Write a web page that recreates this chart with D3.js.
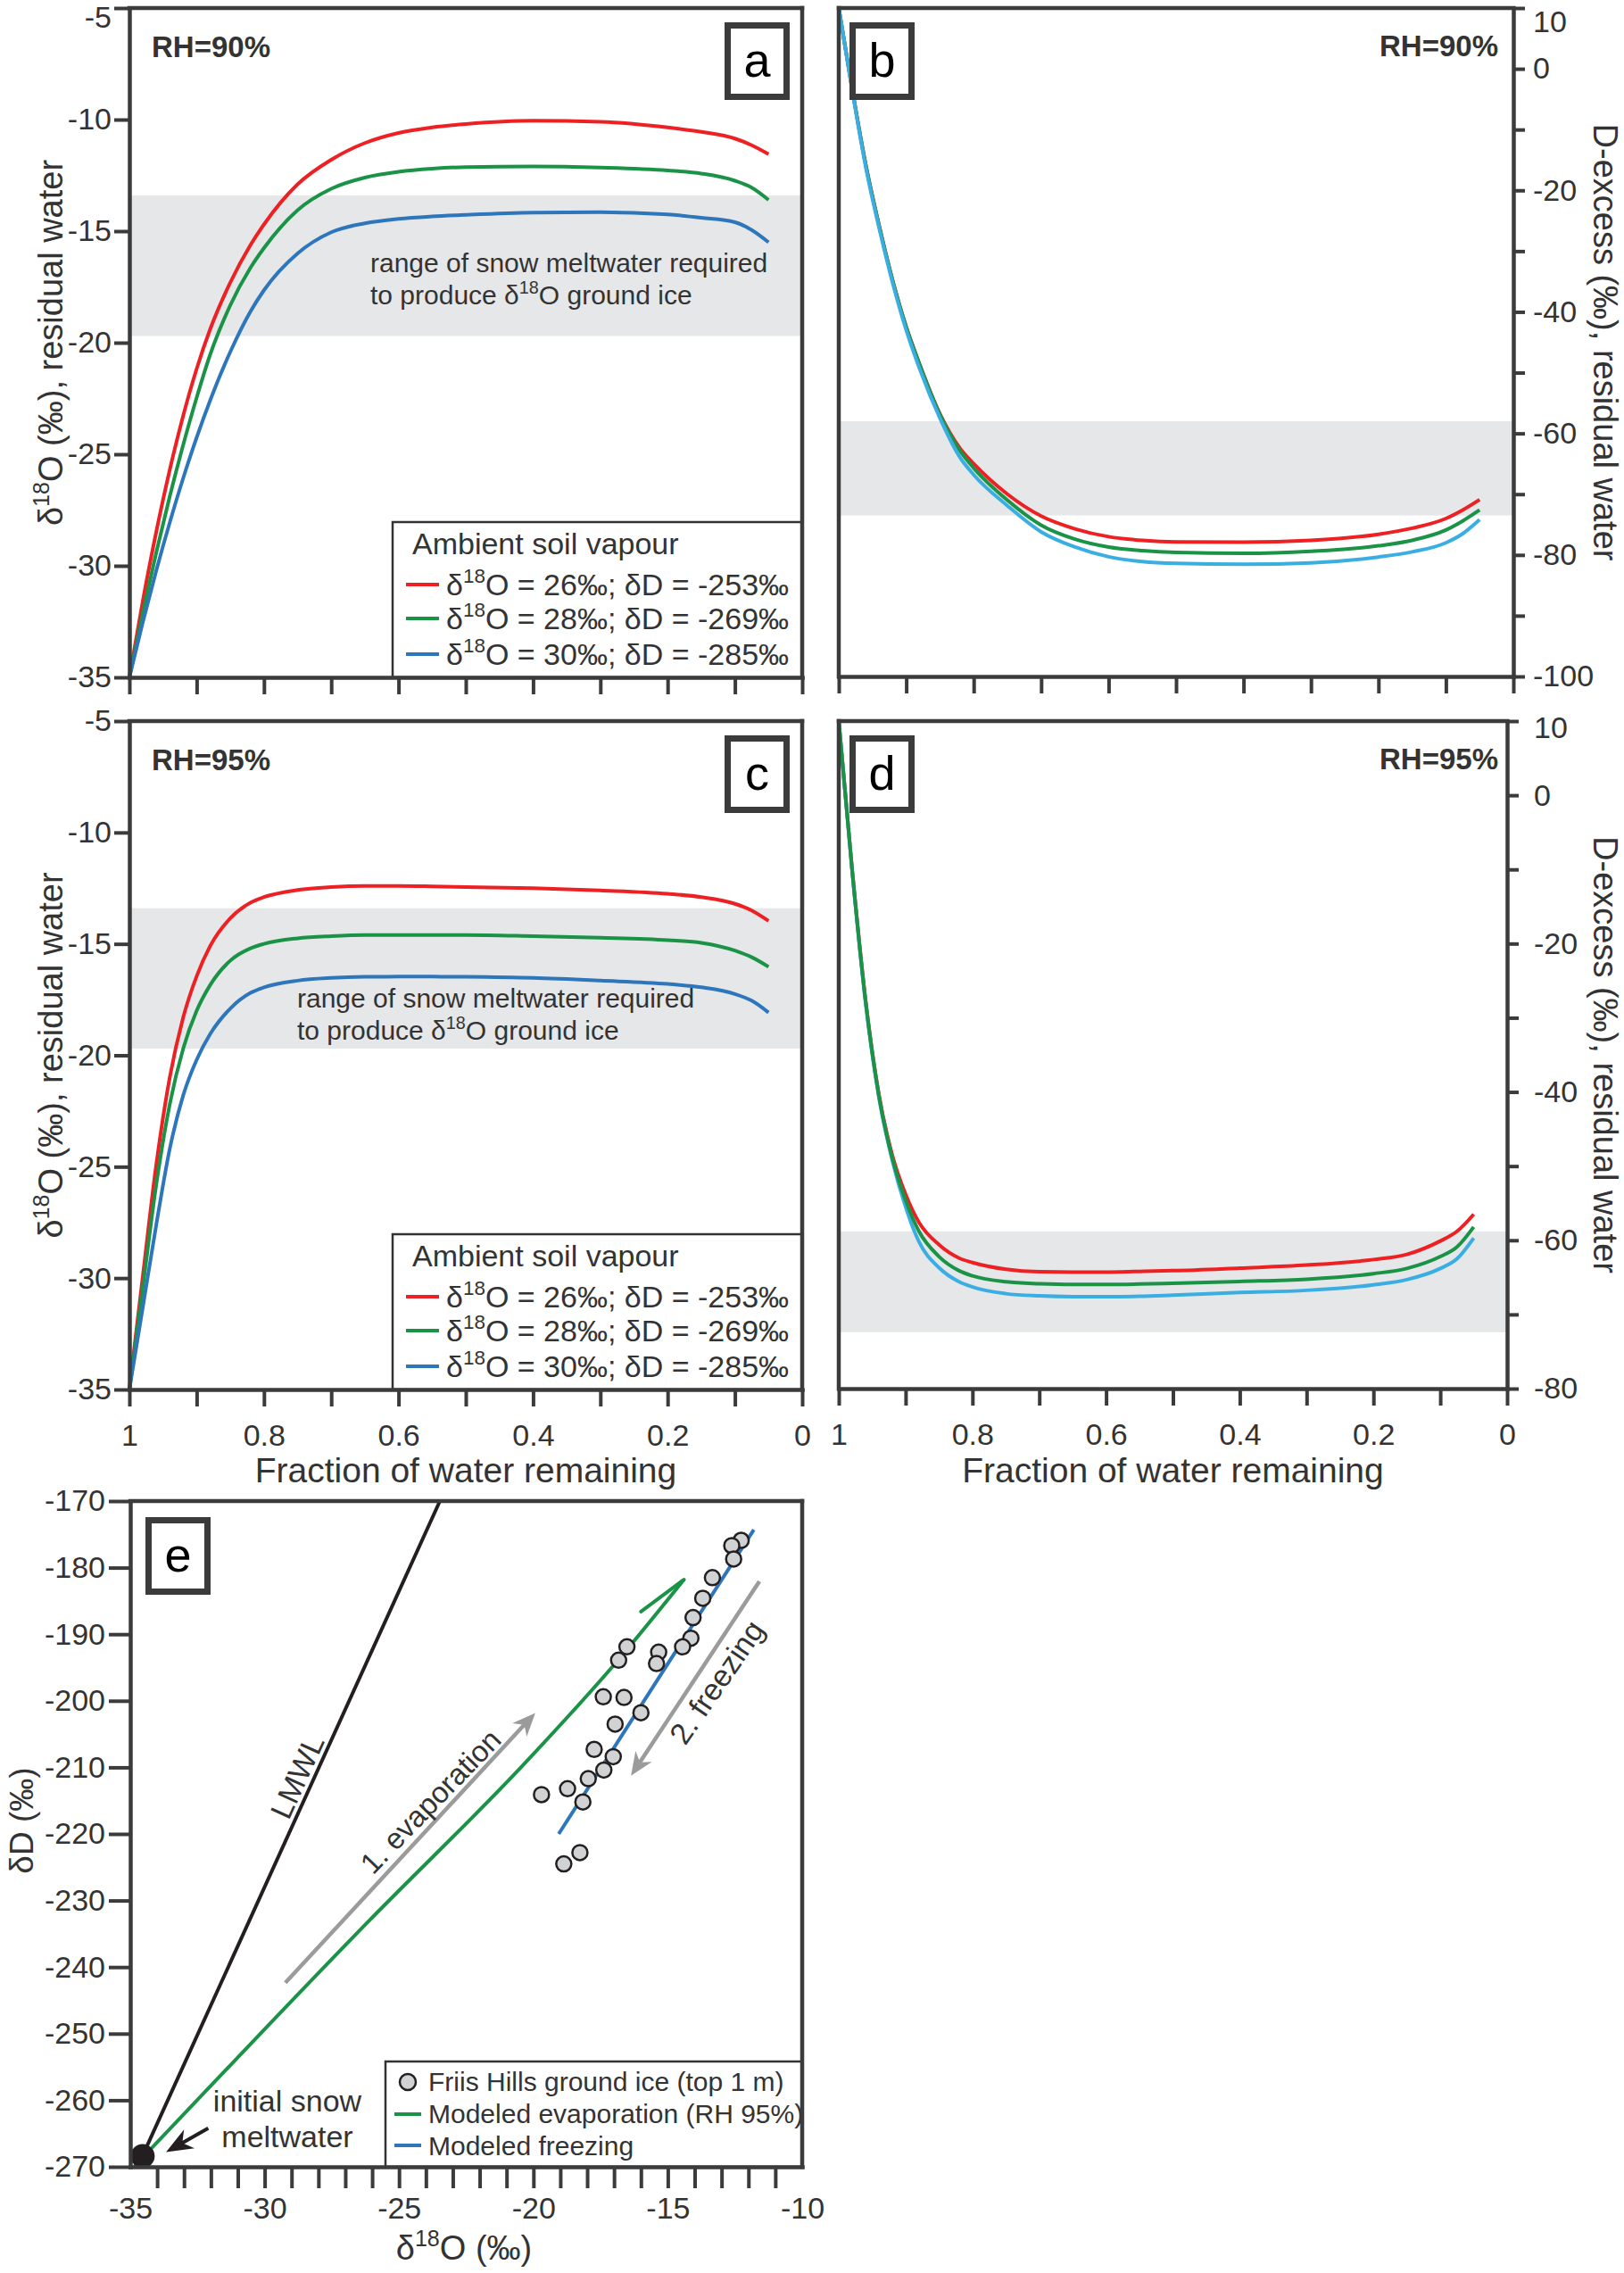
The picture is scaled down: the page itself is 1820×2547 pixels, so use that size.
<!DOCTYPE html>
<html>
<head>
<meta charset="utf-8">
<script src="https://d3js.org/d3.v7.min.js"></script>
<style>
  body { margin: 0; background: #fff; }
  svg text { font-family: "Liberation Sans", Arial, Helvetica, sans-serif; }
</style>
</head>
<body>
<div id="figure"></div>
<script>
"use strict"

var fracSteps = [1, 0.98, 0.96, 0.94, 0.92, 0.9, 0.88, 0.85, 0.82, 0.8, 0.75, 0.7, 0.65, 0.6, 0.55, 0.5, 0.4, 0.3, 0.2, 0.15, 0.1, 0.075, 0.05];
var fracTicks = [1, 0.9, 0.8, 0.7, 0.6, 0.5, 0.4, 0.3, 0.2, 0.1, 0];

// a: d18O residual water, RH 90%
var o18Rh90Red   = [-35, -31.57, -28.47, -25.7, -23.27, -21.17, -19.4, -17.3, -15.62, -14.7, -12.9, -11.8, -11.05, -10.6, -10.35, -10.2, -10.05, -10.1, -10.35, -10.55, -10.85, -11.15, -11.55];
var o18Rh90Green = [-35, -32.1, -29.4, -26.89, -24.58, -22.46, -20.54, -18.32, -16.64, -15.76, -14.06, -13.1, -12.6, -12.34, -12.2, -12.13, -12.1, -12.15, -12.28, -12.42, -12.74, -13.05, -13.6];
var o18Rh90Blue  = [-35, -32.52, -30.21, -28.06, -26.07, -24.25, -22.59, -20.41, -18.6, -17.65, -16.0, -15.05, -14.65, -14.45, -14.34, -14.27, -14.17, -14.15, -14.25, -14.4, -14.6, -14.95, -15.5];

// c: d18O residual water, RH 95%
var o18Rh95Red   = [-35, -29.9, -24.9, -21.0, -18.3, -16.45, -15.1, -13.85, -13.15, -12.9, -12.58, -12.45, -12.4, -12.4, -12.42, -12.45, -12.5, -12.6, -12.75, -12.9, -13.2, -13.5, -13.97];
var o18Rh95Green = [-35, -30.4, -25.8, -22.2, -19.7, -18.0, -16.85, -15.75, -15.2, -15.0, -14.75, -14.65, -14.6, -14.6, -14.6, -14.6, -14.65, -14.72, -14.83, -14.95, -15.3, -15.6, -16.03];
var o18Rh95Blue  = [-35, -31.3, -27.6, -24.2, -21.8, -20.2, -19.05, -17.9, -17.2, -16.95, -16.65, -16.53, -16.48, -16.47, -16.47, -16.48, -16.53, -16.65, -16.8, -16.95, -17.25, -17.55, -18.08];

// b: D-excess residual water, RH 90%
var dexRh90Red   = [10, -3.4, -15.8, -25.9, -34.9, -42.5, -48.7, -56.8, -62.5, -65.0, -70.0, -73.6, -75.7, -77.0, -77.6, -77.85, -77.9, -77.6, -76.6, -75.6, -74.0, -72.6, -70.9];
var dexRh90Green = [10, -3.4, -15.8, -25.9, -34.9, -42.5, -48.7, -56.9, -62.9, -65.7, -71.0, -75.1, -77.4, -78.7, -79.3, -79.6, -79.75, -79.4, -78.5, -77.6, -75.9, -74.4, -72.6];
var dexRh90Blue  = [10, -3.6, -16.2, -26.3, -35.3, -43.0, -49.4, -57.5, -64.0, -66.8, -71.9, -76.2, -78.7, -80.3, -81.1, -81.4, -81.55, -81.3, -80.35, -79.5, -78.0, -76.5, -74.2];

// d: D-excess residual water, RH 95%
var dexRh95Red   = [10, -10.0, -27.5, -40.3, -48.5, -53.8, -57.6, -60.6, -62.4, -63.0, -63.9, -64.25, -64.3, -64.3, -64.2, -64.1, -63.75, -63.35, -62.6, -61.9, -60.1, -58.8, -56.5];
var dexRh95Green = [10, -10.1, -27.7, -40.5, -48.9, -54.6, -58.8, -62.2, -64.1, -64.8, -65.6, -65.85, -65.95, -65.95, -65.9, -65.8, -65.55, -65.25, -64.5, -63.8, -62.2, -60.9, -58.2];
var dexRh95Blue  = [10, -10.2, -27.9, -40.7, -49.2, -55.5, -60.2, -63.7, -65.6, -66.3, -67.2, -67.5, -67.6, -67.6, -67.55, -67.4, -67.05, -66.75, -66.0, -65.3, -63.8, -62.5, -59.7];

// grey bands: range needed to produce the ground ice
var bandO18 = [-13.4, -19.7];
var bandDexRh90 = [-58, -73.5];
var bandDexRh95 = [-58.8, -72.4];

var vapourLabels = ["δ^{18}O = 26‰; δD = -253‰", "δ^{18}O = 28‰; δD = -269‰", "δ^{18}O = 30‰; δD = -285‰"];

// e: dD vs d18O
var iceO18 = [-12.27, -12.62, -12.55, -13.34, -13.70, -14.06, -14.14, -14.45, -15.34, -15.42, -16.52, -16.83, -17.40, -16.63, -16.0, -16.96, -17.74, -17.03, -17.38, -17.96, -18.73, -19.70, -18.16, -18.27, -18.87];
var iceDD  = [-175.9, -176.7, -178.7, -181.5, -184.6, -187.5, -190.6, -191.9, -192.7, -194.4, -191.9, -193.9, -199.4, -199.5, -201.8, -203.5, -207.3, -208.4, -210.4, -211.7, -213.2, -214.1, -215.2, -222.8, -224.5];
var evapO18 = [-34.86, -26.2, -20.3, -17.0, -14.4];
var evapDD  = [-270, -233.4, -209.3, -194.6, -181.8];
var freezeO18 = [-19.06, -11.8];
var freezeDD  = [-220.0, -174.3];
var lmwlO18 = [-34.55, -23.48];
var lmwlDD  = [-268.4, -170];
var snowO18 = -34.54, snowDD = -268.4;
var evapArrow   = [[-29.23, -242.35], [-19.93, -201.82]];
var freezeArrow = [[-11.59, -182.05], [-16.37, -211.27]];
var snowArrow   = [[-32.1, -264.2], [-33.67, -267.8]];

var RED = "#ed2024", GREEN = "#1b9347", BLUE = "#2e76bc", LBLUE = "#3aaee2";
var AX = "#3b3b3b", TXT = "#333", BAND = "#e6e7e8", GREY = "#9b9b9b";

var svg = d3.select("#figure").append("svg")
  .attr("width", 1820).attr("height", 2547);

// text with ^{..} superscripts
function supText(t, str, size) {
  var bits = str.split(/(\^\{[^}]*\})/);
  var up = false;
  bits.forEach(function(b) {
    if (!b) return;
    var m = b.match(/^\^\{(.*)\}$/);
    if (m) {
      t.append("tspan").attr("font-size", size * 0.66).attr("dy", -size * 0.4).text(m[1]);
      up = true;
    } else {
      t.append("tspan").attr("font-size", size).attr("dy", up ? size * 0.4 : null).text(b);
      up = false;
    }
  });
  return t;
}

function styleAxis(g, size) {
  g.attr("font-family", null).attr("font-size", null);
  g.select(".domain").attr("stroke", AX).attr("stroke-width", 4.5).attr("stroke-linecap", "square");
  g.selectAll(".tick line").attr("stroke", AX).attr("stroke-width", 4);
  g.selectAll(".tick text").attr("fill", TXT).style("font-size", size + "px");
}

function frameLine(g, x1, y1, x2, y2) {
  g.append("line").attr("x1", x1).attr("y1", y1).attr("x2", x2).attr("y2", y2)
    .attr("stroke", AX).attr("stroke-width", 4.5).attr("stroke-linecap", "square");
}

function letterBox(g, x, y, letter) {
  g.append("rect").attr("x", x + 3.5).attr("y", y + 3.5).attr("width", 66).attr("height", 80)
    .attr("fill", "#fff").attr("stroke", AX).attr("stroke-width", 7);
  g.append("text").attr("x", x + 36.5).attr("y", y + 61).attr("text-anchor", "middle")
    .attr("font-size", 54).attr("fill", "#000").text(letter);
}

function arrow(g, p0, p1, color, width, len, half) {
  var dx = p1[0] - p0[0], dy = p1[1] - p0[1], L = Math.sqrt(dx * dx + dy * dy);
  var ux = dx / L, uy = dy / L;
  g.append("line").attr("x1", p0[0]).attr("y1", p0[1])
    .attr("x2", p1[0] - ux * len * 0.6).attr("y2", p1[1] - uy * len * 0.6)
    .attr("stroke", color).attr("stroke-width", width);
  var bx = p1[0] - ux * len, by = p1[1] - uy * len;
  var nx = bx + ux * len * 0.3, ny = by + uy * len * 0.3;
  g.append("path")
    .attr("d", "M" + p1[0] + "," + p1[1] +
      "L" + (bx - uy * half) + "," + (by + ux * half) +
      "L" + nx + "," + ny +
      "L" + (bx + uy * half) + "," + (by - ux * half) + "Z")
    .attr("fill", color);
}

function drawCurvePanel(p) {
  var x = d3.scaleLinear().domain([1, 0]).range([p.left, p.right]);
  var y = d3.scaleLinear().domain(p.yDomain).range([p.bottom, p.top]);
  var g = svg.append("g");

  g.append("rect")
    .attr("x", x(1)).attr("y", y(p.band[0]))
    .attr("width", x(0) - x(1)).attr("height", y(p.band[1]) - y(p.band[0]))
    .attr("fill", BAND);

  if (p.bandText) {
    p.bandText.lines.forEach(function(s, i) {
      supText(g.append("text").attr("x", p.bandText.x).attr("y", y(p.bandText.y[i])).attr("fill", TXT), s, 30);
    });
  }

  var line = d3.line()
    .x(function(d, i) { return x(fracSteps[i]); })
    .y(function(d) { return y(d); })
    .curve(d3.curveMonotoneX);

  p.order.forEach(function(k) {
    g.append("path").attr("d", line(p.series[k]))
      .attr("fill", "none").attr("stroke", p.colors[k]).attr("stroke-width", 4);
  });

  if (p.legend) {
    var lx = p.left + 295, ly = p.bottom - 174;
    g.append("rect").attr("x", lx).attr("y", ly).attr("width", p.right - lx).attr("height", 174)
      .attr("fill", "#fff").attr("stroke", "#333").attr("stroke-width", 2.5);
    g.append("text").attr("x", lx + 22).attr("y", p.bottom - 138).attr("font-size", 34).attr("fill", TXT)
      .text("Ambient soil vapour");
    [104, 66, 26].forEach(function(off, i) {
      g.append("line").attr("x1", lx + 15).attr("x2", lx + 52)
        .attr("y1", p.bottom - off).attr("y2", p.bottom - off)
        .attr("stroke", p.colors[i]).attr("stroke-width", 4);
      supText(g.append("text").attr("x", lx + 60).attr("y", p.bottom - off + 12).attr("fill", TXT), vapourLabels[i], 34);
    });
  }

  // frame
  frameLine(g, p.left, p.top, p.right, p.top);
  if (p.side === "left") frameLine(g, p.right, p.top, p.right, p.bottom);
  else frameLine(g, p.left, p.top, p.left, p.bottom);

  var fmtFrac = function(d) {
    var k = Math.round(d * 10);
    return (p.xLabels && k % 2 === 0) ? String(k / 10) : "";
  };
  g.append("g").attr("transform", "translate(0," + p.bottom + ")")
    .call(d3.axisBottom(x).tickValues(fracTicks).tickSize(19).tickSizeOuter(0).tickPadding(20).tickFormat(fmtFrac))
    .call(styleAxis, 34);

  var yAxis = (p.side === "left" ? d3.axisLeft(y) : d3.axisRight(y))
    .tickValues(p.yTicks).tickSize(p.side === "left" ? 17 : 13).tickSizeOuter(0)
    .tickPadding(p.yPad).tickFormat(p.yFormat);
  var ya = g.append("g").attr("transform", "translate(" + (p.side === "left" ? p.left : p.right) + ",0)")
    .call(yAxis).call(styleAxis, 34);
  if (p.topShift) {
    ya.selectAll(".tick text").filter(function(d) { return d === p.yDomain[1]; })
      .attr("transform", "translate(0," + p.topShift + ")");
  }

  // titles and tags
  var cy = (p.top + p.bottom) / 2;
  if (p.side === "left") {
    supText(g.append("text").attr("transform", "translate(70," + cy + ") rotate(-90)")
      .attr("text-anchor", "middle").attr("fill", TXT), "δ^{18}O (‰), residual water", 38);
    g.append("text").attr("x", p.left + 25).attr("y", p.top + 55).attr("font-size", 33)
      .attr("font-weight", "bold").attr("fill", TXT).text(p.rh);
    letterBox(g, p.right - 87, p.top + 16, p.tag);
  } else {
    g.append("text").attr("transform", "translate(1786," + cy + ") rotate(90)")
      .attr("text-anchor", "middle").attr("font-size", 38).attr("fill", TXT)
      .text("D-excess (‰), residual water");
    g.append("text").attr("x", 1679).attr("y", p.top + 54).attr("text-anchor", "end").attr("font-size", 33)
      .attr("font-weight", "bold").attr("fill", TXT).text(p.rh);
    letterBox(g, p.left + 12, p.top + 16, p.tag);
  }
  if (p.xLabels) {
    g.append("text").attr("x", (p.left + p.right) / 2).attr("y", 1661).attr("text-anchor", "middle")
      .attr("font-size", 39).attr("fill", TXT).text("Fraction of water remaining");
  }
}

var o18Ticks = d3.range(-35, -4, 5);
var o18Fmt = function(d) { return String(d); };
var dexFmt = function(d) { return (d === 10 || d % 20 === 0) ? String(d) : ""; };

drawCurvePanel({
  left: 145, right: 899, top: 9, bottom: 759, yDomain: [-35, -5], yTicks: o18Ticks, yFormat: o18Fmt, yPad: 3,
  side: "left", band: bandO18, series: [o18Rh90Red, o18Rh90Green, o18Rh90Blue], colors: [RED, GREEN, BLUE],
  order: [0, 1, 2], legend: true, rh: "RH=90%", tag: "a", xLabels: false, topShift: 11,
  bandText: { x: 415, y: [-16.82, -18.28], lines: ["range of snow meltwater required", "to produce δ^{18}O ground ice"] }
});
drawCurvePanel({
  left: 940, right: 1696, top: 9, bottom: 758, yDomain: [-100, 10], yTicks: d3.range(-100, 11, 10), yFormat: dexFmt, yPad: 9,
  side: "right", band: bandDexRh90, series: [dexRh90Red, dexRh90Green, dexRh90Blue], colors: [RED, GREEN, LBLUE],
  order: [0, 1, 2], legend: false, rh: "RH=90%", tag: "b", xLabels: false, topShift: 16
});
drawCurvePanel({
  left: 145, right: 899, top: 808, bottom: 1557, yDomain: [-35, -5], yTicks: o18Ticks, yFormat: o18Fmt, yPad: 3,
  side: "left", band: bandO18, series: [o18Rh95Red, o18Rh95Green, o18Rh95Blue], colors: [RED, GREEN, BLUE],
  order: [0, 1, 2], legend: true, rh: "RH=95%", tag: "c", xLabels: true,
  bandText: { x: 333, y: [-17.84, -19.3], lines: ["range of snow meltwater required", "to produce δ^{18}O ground ice"] }
});
drawCurvePanel({
  left: 940, right: 1689, top: 808, bottom: 1556, yDomain: [-80, 10], yTicks: d3.range(-80, 11, 10), yFormat: dexFmt, yPad: 17,
  side: "right", band: bandDexRh95, series: [dexRh95Red, dexRh95Green, dexRh95Blue], colors: [RED, GREEN, LBLUE],
  order: [0, 2, 1], legend: false, rh: "RH=95%", tag: "d", xLabels: true, topShift: 8
});

// ---- panel e ----
(function() {
  var x = d3.scaleLinear().domain([-35, -10]).range([146, 899]);
  var y = d3.scaleLinear().domain([-270, -170]).range([2428, 1682]);
  var g = svg.append("g");
  var pt = function(a) { return [x(a[0]), y(a[1])]; };

  var lmwl = d3.line().x(function(d, i) { return x(lmwlO18[i]); }).y(function(d) { return y(d); });
  g.append("path").attr("d", lmwl(lmwlDD)).attr("fill", "none").attr("stroke", "#231f20").attr("stroke-width", 4);

  var evap = d3.line().x(function(d, i) { return x(evapO18[i]); }).y(function(d) { return y(d); }).curve(d3.curveMonotoneX);
  g.append("path").attr("d", evap(evapDD)).attr("fill", "none").attr("stroke", GREEN).attr("stroke-width", 4);
  // half arrow head at the end of the evaporation curve
  var n = evapO18.length;
  var tip = [x(evapO18[n - 1]), y(evapDD[n - 1])], prev = [x(evapO18[n - 2]), y(evapDD[n - 2])];
  var ang = Math.atan2(prev[1] - tip[1], prev[0] - tip[0]) + 14 * Math.PI / 180;
  g.append("line").attr("x1", tip[0]).attr("y1", tip[1])
    .attr("x2", tip[0] + 60 * Math.cos(ang)).attr("y2", tip[1] + 60 * Math.sin(ang))
    .attr("stroke", GREEN).attr("stroke-width", 4).attr("stroke-linecap", "round");

  var frz = d3.line().x(function(d, i) { return x(freezeO18[i]); }).y(function(d) { return y(d); });
  g.append("path").attr("d", frz(freezeDD)).attr("fill", "none").attr("stroke", BLUE).attr("stroke-width", 4);

  arrow(g, pt(evapArrow[0]), pt(evapArrow[1]), GREY, 4.5, 26, 11);
  arrow(g, pt(freezeArrow[0]), pt(freezeArrow[1]), GREY, 4.5, 26, 11);
  arrow(g, pt(snowArrow[0]), pt(snowArrow[1]), "#231f20", 4, 30, 12);

  g.selectAll("circle.ice").data(iceO18).enter().append("circle")
    .attr("class", "ice")
    .attr("cx", function(d) { return x(d); })
    .attr("cy", function(d, i) { return y(iceDD[i]); })
    .attr("r", 8.5).attr("fill", "#d1d2d4").attr("stroke", "#231f20").attr("stroke-width", 2.5);

  g.append("circle").attr("cx", x(snowO18)).attr("cy", y(snowDD)).attr("r", 13.5).attr("fill", "#231f20");

  // rotated annotations
  var lmAng = Math.atan2(y(lmwlDD[1]) - y(lmwlDD[0]), x(lmwlO18[1]) - x(lmwlO18[0])) * 180 / Math.PI;
  g.append("text").attr("transform", "translate(" + x(-28.79) + "," + y(-211.4) + ") rotate(" + lmAng + ")")
    .attr("text-anchor", "middle").attr("dy", "0.35em").attr("font-size", 34).attr("fill", TXT).text("LMWL");
  g.append("text").attr("transform", "translate(" + x(-23.83) + "," + y(-215.1) + ") rotate(-46)")
    .attr("text-anchor", "middle").attr("dy", "0.35em").attr("font-size", 33).attr("fill", TXT).text("1. evaporation");
  g.append("text").attr("transform", "translate(" + x(-13.18) + "," + y(-197.2) + ") rotate(-55.5)")
    .attr("text-anchor", "middle").attr("dy", "0.35em").attr("font-size", 34).attr("fill", TXT).text("2. freezing");

  g.append("text").attr("x", 322).attr("y", 2366).attr("text-anchor", "middle").attr("font-size", 34).attr("fill", TXT).text("initial snow");
  g.append("text").attr("x", 322).attr("y", 2406).attr("text-anchor", "middle").attr("font-size", 34).attr("fill", TXT).text("meltwater");

  // legend
  g.append("rect").attr("x", 432).attr("y", 2310).attr("width", 899 - 432).attr("height", 118)
    .attr("fill", "#fff").attr("stroke", "#333").attr("stroke-width", 2.5);
  g.append("circle").attr("cx", 457).attr("cy", 2333).attr("r", 9)
    .attr("fill", "#d1d2d4").attr("stroke", "#231f20").attr("stroke-width", 2.5);
  g.append("line").attr("x1", 442).attr("x2", 472).attr("y1", 2369).attr("y2", 2369).attr("stroke", GREEN).attr("stroke-width", 4);
  g.append("line").attr("x1", 442).attr("x2", 472).attr("y1", 2404).attr("y2", 2404).attr("stroke", BLUE).attr("stroke-width", 4);
  [["Friis Hills ground ice (top 1 m)", 2343], ["Modeled evaporation (RH 95%)", 2379], ["Modeled freezing", 2415]].forEach(function(r) {
    g.append("text").attr("x", 480).attr("y", r[1]).attr("font-size", 30).attr("fill", TXT).text(r[0]);
  });

  // frame and axes
  frameLine(g, 146, 1682, 899, 1682);
  frameLine(g, 899, 1682, 899, 2428);
  var xa = g.append("g").attr("transform", "translate(0,2428)")
    .call(d3.axisBottom(x).tickValues(d3.range(-35, -9, 1)).tickSize(24).tickSizeOuter(0).tickPadding(10)
      .tickFormat(function(d) { return d % 5 === 0 ? String(d) : ""; }))
    .call(styleAxis, 34);
  xa.selectAll(".tick line").filter(function(d) { return d === -35 || d === -10; }).remove();
  g.append("g").attr("transform", "translate(146,0)")
    .call(d3.axisLeft(y).tickValues(d3.range(-270, -169, 10)).tickSize(24).tickSizeOuter(0).tickPadding(4)
      .tickFormat(function(d) { return String(d); }))
    .call(styleAxis, 34);

  letterBox(g, 163, 1700, "e");

  supText(g.append("text").attr("x", 520).attr("y", 2532).attr("text-anchor", "middle").attr("fill", TXT), "δ^{18}O (‰)", 38);
  g.append("text").attr("transform", "translate(37,2040) rotate(-90)").attr("text-anchor", "middle")
    .attr("font-size", 37).attr("fill", TXT).text("δD (‰)");
})();
</script>
</body>
</html>
